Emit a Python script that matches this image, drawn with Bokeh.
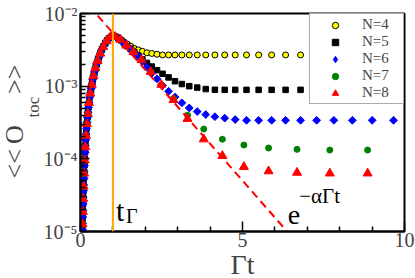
import math
from bokeh.plotting import figure
from bokeh.models import (Range1d, FixedTicker, CustomJSTickFormatter, Label, Legend, LegendItem,
                          Span, Title)
from bokeh.embed import file_html
from bokeh.resources import INLINE

# ---------------- data ----------------
# time grid of the N=4,5,6 runs
t_a = [0.0605, 0.0649, 0.0697, 0.0747, 0.0802, 0.0861, 0.0923, 0.0991, 0.1063, 0.1141,
       0.1224, 0.1313, 0.1409, 0.1512, 0.1623, 0.1741, 0.1868, 0.2004, 0.2151, 0.2308,
       0.2476, 0.2657, 0.2851, 0.3059, 0.3282, 0.3522, 0.3779, 0.4055, 0.4351, 0.4669,
       0.5010, 0.5375, 0.5768, 0.6189, 0.6641, 0.7126, 0.7646, 0.8204, 0.8803, 0.9445,
       1.013, 1.087, 1.167, 1.252, 1.343, 1.441, 1.547, 1.660, 1.781, 1.911,
       2.050, 2.200, 2.361, 2.533, 2.718, 2.916, 3.129, 3.357, 3.603, 3.866,
       4.148, 4.451, 4.775, 5.124, 5.498, 5.899, 6.330, 6.792, 7.288, 7.820,
       8.391, 9.003, 9.661]
# common rising part (grid a, first 41 points)
rise_a = [1.05e-5, 1.29e-5, 1.58e-5, 1.95e-5, 2.40e-5, 2.95e-5, 3.63e-5, 4.37e-5, 5.37e-5, 6.61e-5,
          8.13e-5, 1.00e-4, 1.23e-4, 1.51e-4, 1.82e-4, 2.19e-4, 2.63e-4, 3.16e-4, 3.72e-4, 4.37e-4,
          5.13e-4, 6.03e-4, 7.08e-4, 8.13e-4, 9.33e-4, 1.07e-3, 1.23e-3, 1.41e-3, 1.58e-3, 1.82e-3,
          2.04e-3, 2.29e-3, 2.57e-3, 2.88e-3, 3.24e-3, 3.55e-3, 3.89e-3, 4.27e-3, 4.57e-3, 4.79e-3,
          4.90e-3]
tail_n4 = [4.79e-3, 4.68e-3, 4.37e-3, 4.07e-3, 3.80e-3, 3.55e-3, 3.31e-3, 3.16e-3, 3.02e-3, 2.88e-3,
           2.82e-3, 2.75e-3, 2.69e-3, 2.69e-3, 2.69e-3, 2.69e-3, 2.69e-3, 2.69e-3, 2.69e-3, 2.69e-3,
           2.69e-3, 2.69e-3, 2.69e-3, 2.69e-3, 2.69e-3, 2.69e-3, 2.69e-3, 2.69e-3, 2.69e-3, 2.69e-3,
           2.69e-3, 2.69e-3]
tail_n5 = [4.79e-3, 4.57e-3, 4.27e-3, 3.89e-3, 3.55e-3, 3.24e-3, 2.95e-3, 2.63e-3, 2.34e-3, 2.09e-3,
           1.86e-3, 1.66e-3, 1.48e-3, 1.32e-3, 1.17e-3, 1.07e-3, 1.00e-3, 9.55e-4, 9.12e-4, 8.91e-4,
           8.90e-4, 8.90e-4, 8.90e-4, 8.90e-4, 8.90e-4, 8.90e-4, 8.90e-4, 8.90e-4, 8.90e-4, 8.90e-4,
           8.90e-4, 8.90e-4]
tail_n6 = [4.79e-3, 4.57e-3, 4.27e-3, 3.89e-3, 3.55e-3, 3.24e-3, 2.88e-3, 2.57e-3, 2.19e-3, 1.82e-3,
           1.51e-3, 1.26e-3, 1.02e-3, 8.51e-4, 7.08e-4, 5.89e-4, 5.01e-4, 4.47e-4, 4.07e-4, 3.80e-4,
           3.63e-4, 3.47e-4, 3.39e-4, 3.39e-4, 3.39e-4, 3.39e-4, 3.39e-4, 3.39e-4, 3.39e-4, 3.39e-4,
           3.39e-4, 3.39e-4]
# time grid of the N=7,8 runs
t_b = [0.0639, 0.0735, 0.0847, 0.0975, 0.1122, 0.1292, 0.1488, 0.1713, 0.1972, 0.2271,
       0.2615, 0.3010, 0.3466, 0.3990, 0.4595, 0.5290, 0.6091, 0.7013, 0.8075, 0.9294,
       1.070, 1.232, 1.419, 1.633, 1.881, 2.165, 2.493, 2.870, 3.304, 3.804,
       4.379, 5.043, 5.805, 6.683, 7.695, 8.861]
rise_b = [1.26e-5, 1.86e-5, 2.82e-5, 4.17e-5, 6.31e-5, 9.55e-5, 1.45e-4, 2.09e-4, 3.02e-4, 4.17e-4,
          5.89e-4, 7.94e-4, 1.05e-3, 1.38e-3, 1.78e-3, 2.24e-3, 2.82e-3, 3.47e-3, 4.17e-3, 4.79e-3,
          4.79e-3, 4.37e-3, 3.63e-3, 2.95e-3, 2.29e-3, 1.58e-3, 1.05e-3]
tail_n7 = [6.76e-4, 3.98e-4, 2.57e-4, 1.86e-4, 1.55e-4, 1.41e-4, 1.35e-4, 1.32e-4, 1.32e-4]
tail_n8 = [6.46e-4, 3.55e-4, 1.86e-4, 1.10e-4, 7.76e-5, 6.76e-5, 6.46e-5, 6.31e-5, 6.31e-5]

series_labels = ["N=4", "N=5", "N=6", "N=7", "N=8"]
t_gamma = 1.0
fit_amp = 1.74e-2
fit_alpha = 1.17
fit_t = [0.0, 7.0]
x_ticks = [0, 5, 10]
x_minor = [1, 2, 3, 4, 6, 7, 8, 9]
y_exps = [-5, -4, -3, -2]

SERIF = "Liberation Serif"

p = figure(width=415, height=278, x_range=Range1d(0, 10), y_range=Range1d(1e-5, 1e-2),
           y_axis_type="log", output_backend="svg", toolbar_location=None,
           min_border_left=75, min_border_right=11, min_border_top=13, min_border_bottom=47)
p.xgrid.visible = False
p.ygrid.visible = False
p.outline_line_color = "black"
p.outline_line_width = 2
p.background_fill_color = "white"
p.border_fill_color = "white"

p.xaxis.ticker = FixedTicker(ticks=x_ticks, minor_ticks=x_minor)
y_major = [10.0 ** e for e in y_exps]
y_minor = [m * 10.0 ** e for e in y_exps[:-1] for m in range(2, 10)]
p.yaxis.ticker = FixedTicker(ticks=y_major, minor_ticks=y_minor)
p.yaxis.formatter = CustomJSTickFormatter(code="""
const sup = {"0":"\\u2070","1":"\\u00b9","2":"\\u00b2","3":"\\u00b3","4":"\\u2074","5":"\\u2075",
             "6":"\\u2076","7":"\\u2077","8":"\\u2078","9":"\\u2079","-":"\\u207b"};
const e = String(Math.round(Math.log10(tick)));
let s = "10";
for (const ch of e) s += sup[ch];
return s;
""")
p.yaxis.major_label_standoff = 3

for ax in (p.xaxis[0], p.yaxis[0]):
    ax.axis_line_width = 2
    ax.axis_line_color = "black"
    ax.major_tick_out = 0
    ax.minor_tick_out = 0
    ax.major_tick_line_width = 1.5
    ax.minor_tick_line_width = 1.5
    ax.major_label_text_font = SERIF
    ax.major_label_text_font_size = "20px"
p.xaxis.major_tick_in = 10
p.xaxis.minor_tick_in = 5
p.yaxis.major_tick_in = 9
p.yaxis.minor_tick_in = 5
p.xaxis.major_label_standoff = 1

# x axis title
p.add_layout(Title(text="\u0393t", align="center", vertical_align="bottom", standoff=-6,
                   text_font=SERIF, text_font_size="28px", text_font_style="normal"), "below")

# y axis title  < < O_toc > >
p.add_layout(Title(text="toc", align="left", offset=114, vertical_align="middle", standoff=-6.4,
                   text_font=SERIF, text_font_size="17px", text_font_style="normal"), "left")
p.add_layout(Title(text="<<\u2009O\u2003\u2009>>", align="left", offset=53, vertical_align="bottom",
                   standoff=-6, text_font=SERIF, text_font_size="26px", text_font_style="normal"), "left")

n4_y = rise_a + tail_n4
n5_y = rise_a + tail_n5
n6_y = rise_a + tail_n6
n7_y = rise_b + tail_n7
n8_y = rise_b + tail_n8

# legend swatch for N=6 (a diamond, as in the original key); it marks the first N=6 point,
# which the other series cover
r6_key = p.scatter(t_a[:1], n6_y[:1], marker="diamond", size=9, fill_color="#0000ff", line_color="#0000ff")
r4 = p.scatter(t_a, n4_y, marker="circle", size=6, fill_color="#ffff00", line_color="black", line_width=1)
r5 = p.scatter(t_a, n5_y, marker="square", size=5.5, fill_color="black", line_color="black")
r6 = p.scatter(t_a, n6_y, marker="square", angle=math.pi / 4, size=5.5, fill_color="#0000ff", line_color="#0000ff")
r7 = p.scatter(t_b, n7_y, marker="circle", size=6, fill_color="#008000", line_color="#008000")
r8 = p.scatter(t_b, n8_y, marker="triangle", size=9, fill_color="#ff0000", line_color="#ff0000")

fit_y = [fit_amp * math.exp(-fit_alpha * t) for t in fit_t]
p.line(fit_t, fit_y, line_color="#ff0000", line_width=2, line_dash="8 5")

p.add_layout(Span(location=t_gamma, dimension="height", line_color="#ffa500", line_width=2))

legend = Legend(items=[LegendItem(label=l, renderers=[r]) for l, r in zip(series_labels, [r4, r5, r6_key, r7, r8])],
                location="top_right", margin=0, padding=2, spacing=0,
                glyph_height=16, label_height=16, glyph_width=46, label_standoff=4, label_width=39,
                label_text_font=SERIF, label_text_font_size="15px",
                border_line_color="#555555", border_line_width=1.5,
                background_fill_color="white", background_fill_alpha=1.0)
p.add_layout(legend)


def lab(text, x, y, dx, dy, size):
    p.add_layout(Label(x=x, y=y, text=text, x_offset=dx, y_offset=dy, text_font=SERIF,
                       text_font_size=size, text_color="black", text_align="left",
                       text_baseline="alphabetic"))


# t_Gamma
lab("t", t_gamma, 1e-5, 3, 21, "30px")
lab("\u0393", t_gamma, 1e-5, 13, 16, "20px")

# e^{-alpha Gamma t}
lab("e", 6.4, 1e-5, 0, 17, "28px")
lab("\u2212\u03b1\u0393t", 6.4, 1e-5, 11.4, 36, "21px")

open("out.html", "w").write(file_html(p, INLINE))
